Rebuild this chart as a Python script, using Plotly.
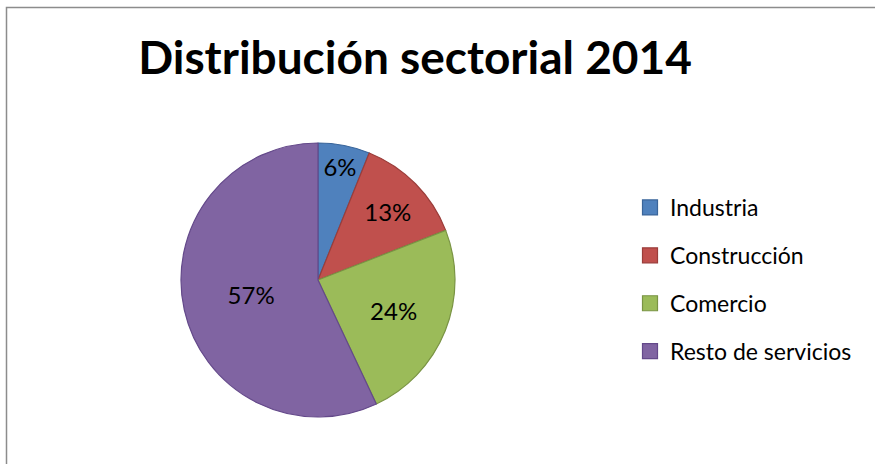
import plotly.graph_objects as go

categories = ["Industria", "Construcción", "Comercio", "Resto de servicios"]
values = [6.1, 13.0, 23.9, 57.0]
colors = ["#4F81BD", "#C0504D", "#9BBB59", "#8064A2"]
edge_colors = ["#3A659A", "#9B3D3A", "#7A9444", "#64498A"]
title_text = "Distribución sectorial 2014"

W, H = 875, 464
cx, cy, r = 318, 280, 137

fig = go.Figure()
fig.add_trace(go.Pie(
    labels=categories, values=values, sort=False, direction="clockwise",
    rotation=0,
    marker=dict(colors=colors, line=dict(color=edge_colors, width=1.2)),
    texttemplate="%{percent:.0%}", textposition="inside",
    insidetextorientation="horizontal",
    textfont=dict(family="Lato", size=24, color="#000000"),
    showlegend=False, hoverinfo="label+percent",
    domain=dict(x=[(cx - r) / W, (cx + r) / W],
                y=[(H - cy - r) / H, (H - cy + r) / H]),
))

# legend entries (one per category, separate groups to control spacing)
for name, c, ec in zip(categories, colors, edge_colors):
    fig.add_trace(go.Scatter(
        x=[None], y=[None], mode="markers", name=name, legendgroup=name,
        marker=dict(symbol="square", size=15, color=c, line=dict(color=ec, width=1.2)),
    ))

fig.update_layout(
    width=W, height=H,
    margin=dict(l=0, r=0, t=0, b=0),
    paper_bgcolor="white", plot_bgcolor="white",
    title=dict(text=f"<b>{title_text}</b>", x=415 / W, xanchor="center",
               y=1 - 58 / H, yanchor="middle", yref="container",
               font=dict(family="Lato", size=46, color="#000000")),
    xaxis=dict(visible=False), yaxis=dict(visible=False),
    legend=dict(x=630 / W, xanchor="left", y=1 - 186 / H, yanchor="top",
                font=dict(family="Lato", size=23, color="#000000"),
                tracegroupgap=15, itemwidth=30, bgcolor="rgba(0,0,0,0)"),
    shapes=[dict(type="rect", xref="paper", yref="paper",
                 x0=6.5 / W, x1=1.05, y0=-0.05, y1=1 - 7.5 / H,
                 line=dict(color="#8c8c8c", width=1.5), layer="below")],
)

fig.write_html("out.html")
